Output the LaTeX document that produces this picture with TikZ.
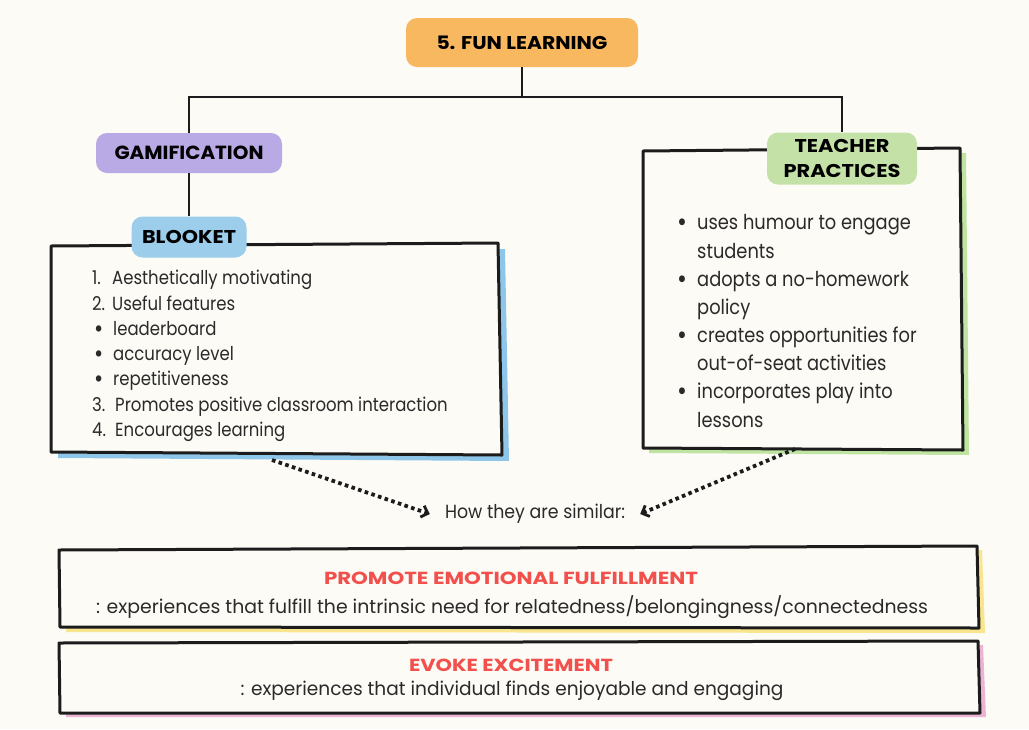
\documentclass[tikz,border=0pt]{standalone}
\usepackage{fontspec}
\usetikzlibrary{arrows.meta,calc}
\newfontfamily\bodyfont{Poppins}[FakeStretch=0.87]
\newfontfamily\headfont{Poppins}
\definecolor{paper}{HTML}{FCFBF6}
\definecolor{ink}{HTML}{1C1C1C}
\definecolor{textgray}{HTML}{2A2A2A}
\definecolor{blobOrange}{HTML}{F8B860}
\definecolor{blobLav}{HTML}{B9AAE5}
\definecolor{blobBlue}{HTML}{9CCDEA}
\definecolor{blobGreen}{HTML}{C4E2A8}
\definecolor{shadeBlue}{HTML}{8EC6EA}
\definecolor{shadeGreen}{HTML}{BFE3A0}
\definecolor{shadeYellow}{HTML}{F8E58E}
\definecolor{shadePink}{HTML}{EDB3D3}
\definecolor{alertRed}{HTML}{F2504C}
% scale a piece of text horizontally to a given width (in pt)
\newlength\fitlen
\newcommand\fitx[2]{\settowidth\fitlen{#2}\pgfmathsetmacro\fitr{#1/\fitlen}\scalebox{\fitr}[1]{#2}}
% list bullet
\newcommand\dotmark{\raisebox{-1.8pt}{\scalebox{1.35}{•}}}
\begin{document}
\begin{tikzpicture}[x=1pt,y=-1pt,
  blob/.style={fill=#1, rounded corners=11pt, inner sep=0pt},
  cardline/.style={draw=ink, line width=3pt, line join=round, fill=paper},
  tree/.style={draw=ink, line width=2.6pt},
  dots/.style={draw=ink, line width=3.8pt, dash pattern=on 3.6pt off 3.4pt,
    -{Straight Barb[length=6pt,width=12pt,line width=2.8pt]}},
  listtext/.style={text=textgray, align=left, inner sep=0pt, anchor=west},
  plain/.style={text=textgray, inner sep=0pt}]
\fill[paper] (0,0) rectangle (1029,729);
\useasboundingbox (0,0) rectangle (1029,729);

% cards: coloured offset shade, then the hand-drawn frame
\fill[shadeBlue] (58,252) -- (505,249) -- (509,461) -- (58,458) -- cycle;
\path[cardline] (51,246) -- (498,243) -- (502,455) -- (51,452) -- cycle;
\fill[shadeGreen] (649,156) -- (966,153) -- (969,455) -- (649,453) -- cycle;
\path[cardline] (643,151) -- (960,148) -- (963,450) -- (643,448) -- cycle;
\fill[shadeYellow] (66,553) -- (982,550) -- (985,633) -- (66,632) -- cycle;
\path[cardline] (59,550) -- (977,546) -- (979,628) -- (60,627) -- cycle;
\fill[shadePink] (66,646) -- (983,645) -- (986,717) -- (66,717) -- cycle;
\path[cardline] (59,643) -- (978,641) -- (980,713) -- (60,713) -- cycle;

% heading blobs
\node[blob=blobOrange, minimum width=232pt, minimum height=49pt] (title) at (522,42.5)
  {\fitx{171}{\headfont\bfseries\fontsize{18.5}{20}\selectfont 5. FUN LEARNING}};
\node[blob=blobLav, minimum width=186pt, minimum height=40pt] (gam) at (189,153)
  {\fitx{149}{\headfont\bfseries\fontsize{19}{20}\selectfont GAMIFICATION}};
\node[blob=blobBlue, minimum width=115pt, minimum height=41pt] (blk) at (189,237)
  {\fitx{94}{\headfont\bfseries\fontsize{18.5}{20}\selectfont BLOOKET}};
\node[blob=blobGreen, minimum width=150pt, minimum height=52pt, align=center,
  font=\headfont\bfseries\fontsize{18.5}{25}\selectfont] (teach) at (842,158.5)
  {\fitx{95}{TEACHER}\\
   \fitx{117}{PRACTICES}};

% tree connectors
\coordinate (bar) at (522,97);
\draw[tree] (title.south) -- (title.south |- bar);
\draw[tree] (gam.north) -- (gam.north |- bar) -- (teach.north |- bar) -- (teach.north);
\draw[tree] (gam.south) -- (blk.north);

% Blooket list
\node[listtext, font=\bodyfont\fontsize{19}{25.3}\selectfont] (blist) at (92,356) {%
  \makebox[20pt][l]{1.}Aesthetically motivating\\
  \makebox[20pt][l]{2.}Useful features\\
  \hspace{2pt}\makebox[19pt][l]{\dotmark}leaderboard\\
  \hspace{2pt}\makebox[19pt][l]{\dotmark}accuracy level\\
  \hspace{2pt}\makebox[19pt][l]{\dotmark}repetitiveness\\
  \makebox[23pt][l]{3.}Promotes positive classroom interaction\\
  \makebox[23pt][l]{4.}Encourages learning};

% Teacher practices list
\node[listtext, font=\bodyfont\fontsize{20.5}{28.2}\selectfont] (tlist) at (677,321) {%
  \makebox[20pt][l]{\dotmark}uses humour to engage\\
  \hspace{20pt}students\\
  \makebox[20pt][l]{\dotmark}adopts a no-homework\\
  \hspace{20pt}policy\\
  \makebox[20pt][l]{\dotmark}creates opportunities for\\
  \hspace{20pt}out-of-seat activities\\
  \makebox[20pt][l]{\dotmark}incorporates play into\\
  \hspace{20pt}lessons};

% comparison label and dotted arrows
\coordinate (bfoot) at (272,460);
\coordinate (tfoot) at (795,449);
\node[plain, inner xsep=15pt] (sim) at (535,514)
  {\fitx{180}{\bodyfont\fontsize{19}{22}\selectfont How they are similar:}};
\draw[dots] (bfoot) -- (sim.west);
\draw[dots] (tfoot) -- (sim.east);

% shared qualities
\node[plain, text=alertRed] (t1) at (511,578)
  {\fitx{374}{\headfont\bfseries\fontsize{17.5}{20}\selectfont PROMOTE EMOTIONAL FULFILLMENT}};
\node[plain] (d1) at (512,607)
  {\fitx{832}{\bodyfont\fontsize{19}{22}\selectfont : experiences that fulfill the intrinsic need for relatedness/belongingness/connectedness}};
\node[plain, text=alertRed] (t2) at (511,665)
  {\fitx{204}{\headfont\bfseries\fontsize{17.5}{20}\selectfont EVOKE EXCITEMENT}};
\node[plain] (d2) at (512,691)
  {\fitx{543}{\bodyfont\fontsize{19}{22}\selectfont : experiences that individual finds enjoyable and engaging}};
\end{tikzpicture}
\end{document}
